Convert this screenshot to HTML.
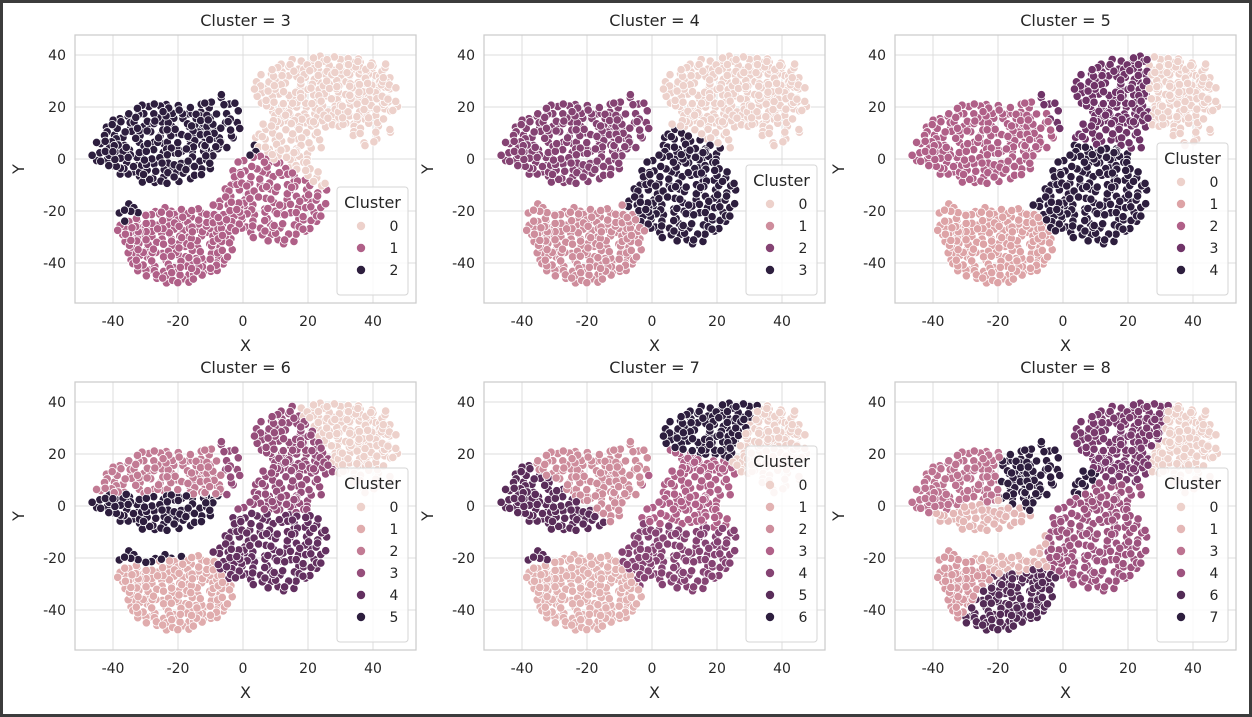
<!DOCTYPE html>
<html><head><meta charset="utf-8"><style>
html,body{margin:0;padding:0;background:#fff}
svg{display:block;font-family:"DejaVu Sans","Liberation Sans",sans-serif}
</style></head><body>
<svg id="chart" width="1252" height="717" viewBox="0 0 1252 717" xmlns="http://www.w3.org/2000/svg">
<rect x="1.5" y="1.5" width="1249" height="714" fill="#fff" stroke="#3c3c3c" stroke-width="3"/>
</svg>
<script>
// ---- data ----
const panelKs = [3,4,5,6,7,8];
const xTicks = [-40,-20,0,20,40];
const yTicks = [-40,-20,0,20,40];
// point-cloud regions [cx, cy, rx, ry, count] (t-SNE embedding shape)
const blobs = [
 [25,26,22,14,210],[38,22,10,18,70],[14,8,11,10,60],
 [10,-14,16,19,170],
 [-25,6,19,16,190],[-41,2,6,6,20],[-8,14,8,11,40],
 [-20,-33,17,15,190],[-35,-25,4,8,20],[-5,-22,5,8,25]
];
// centroids per panel (cluster label = index)
const centroids3 = [[28,22],[-5,-25],[-25,5]];
const centroids4 = [[28,25],[-20,-32],[-25,5],[10,-12]];
const centroids5 = [[38,25],[-20,-35],[-22,5],[15,24],[10,-15]];
const centroids6 = [[38,28],[-20,-36],[-25,14],[12,15],[10,-20],[-25,-5]];
const centroids7 = [[40,25],[-22,-35],[-18,12],[12,5],[10,-20],[-32,-3],[18,35]];
const centroids8 = [[40,25],[-22,-12],[-35,-30],[-28,14],[12,-12],[20,30],[-18,-40],[-10,14]];
const legends = [[0,1,2],[0,1,2,3],[0,1,2,3,4],[0,1,2,3,4,5],[0,1,2,3,4,5,6],[0,1,3,4,6,7]];
const allCentroids = [centroids3,centroids4,centroids5,centroids6,centroids7,centroids8];

// ---- layout ----
const colOff=[0,409,820], rowOff=[0,347];
const svg=document.getElementById('chart');
const NS='http://www.w3.org/2000/svg';
function mk(tag,attrs,parent){const e=document.createElementNS(NS,tag);for(const k in attrs)e.setAttribute(k,attrs[k]);(parent||svg).appendChild(e);return e;}
function sx(x,o){return 243+o+x*3.25;}
function sy(y,o){return 159+o-y*2.6;}
const stops=[[237,209,203],[221,163,166],[176,96,136],[112,52,104],[45,30,62]];
function col(t){const p=t*4,i=Math.min(3,Math.floor(p)),f=p-i,a=stops[i],b=stops[i+1];
 return 'rgb('+a.map((v,j)=>Math.round(v+(b[j]-v)*f)).join(',')+')';}
function halton(i,b){let f=1,r=0;while(i>0){f/=b;r+=f*(i%b);i=Math.floor(i/b);}return r;}
const pts=[];let idx=1;
blobs.forEach(b=>{for(let i=0;i<b[4];i++){const r=Math.sqrt(halton(idx,2)),a=2*Math.PI*halton(idx,3);idx++;
 pts.push([b[0]+b[2]*r*Math.cos(a),b[1]+b[3]*r*Math.sin(a)]);}});

panelKs.forEach((k,pi)=>{
 const ox=colOff[pi%3], oy=rowOff[Math.floor(pi/3)];
 const g=mk('g',{});
 
 
 const L=75+ox,R=416+ox,T=35+oy,B=303+oy;
 mk('rect',{x:L,y:T,width:R-L,height:B-T,fill:'#fff'},g);
 xTicks.forEach(v=>{const x=sx(v,ox);mk('line',{x1:x,x2:x,y1:T,y2:B,stroke:'#dcdcdc','stroke-width':1},g);
  const t=mk('text',{x:x,y:B+23,'font-size':14,'text-anchor':'middle',fill:'#262626'},g);t.textContent=v;
  });
 yTicks.forEach(v=>{const y=sy(v,oy);mk('line',{x1:L,x2:R,y1:y,y2:y,stroke:'#dcdcdc','stroke-width':1},g);
  const t=mk('text',{x:L-9,y:y+5,'font-size':14,'text-anchor':'end',fill:'#262626'},g);t.textContent=v;
  });
 const cs=allCentroids[pi];
 const pg=mk('g',{},g);
 
 
 pts.forEach(p=>{let best=0,bd=1e9;cs.forEach((c,ci)=>{const d=(p[0]-c[0])**2+(p[1]-c[1])**2;if(d<bd){bd=d;best=ci;}});
  const c=mk('circle',{cx:sx(p[0],ox),cy:sy(p[1],oy),r:4.2,fill:col(best/(k-1)),stroke:'#fff','stroke-width':0.8},pg);
  });
 mk('rect',{x:L,y:T,width:R-L,height:B-T,fill:'none',stroke:'#cccccc','stroke-width':1.25},g);
 const tt=mk('text',{x:(L+R)/2,y:T-9,'font-size':16,'text-anchor':'middle',fill:'#262626'},g);tt.textContent='Cluster = '+k;
 
 const xl=mk('text',{x:(L+R)/2,y:B+48,'font-size':16,'text-anchor':'middle',fill:'#262626'},g);xl.textContent='X';
 
 const yl=mk('text',{x:24+ox,y:(T+B)/2,'font-size':16,'text-anchor':'middle',fill:'#262626',transform:'rotate(-90 '+(24+ox)+' '+((T+B)/2)+')'},g);yl.textContent='Y';
 
 // legend
 const ent=legends[pi];
 const lh=36+ent.length*22+6, lx=R-79, ly=B-8-lh;
 const lg=mk('g',{},g);
 
 
 mk('rect',{x:lx,y:ly,width:71,height:lh,rx:3,fill:'#fff','fill-opacity':0.8,stroke:'#d6d6d6'},lg);
 const lt=mk('text',{x:lx+35.5,y:ly+21,'font-size':16,'text-anchor':'middle',fill:'#262626'},lg);lt.textContent='Cluster';
 
 ent.forEach((e,i)=>{const y=ly+39+i*22;
  const m=mk('circle',{cx:lx+24,cy:y,r:4.2,fill:col(e/(k-1))},lg);
  
  const t=mk('text',{x:lx+57,y:y+5,'font-size':14,'text-anchor':'middle',fill:'#262626'},lg);t.textContent=e;
  });
});
</script>
</body></html>
